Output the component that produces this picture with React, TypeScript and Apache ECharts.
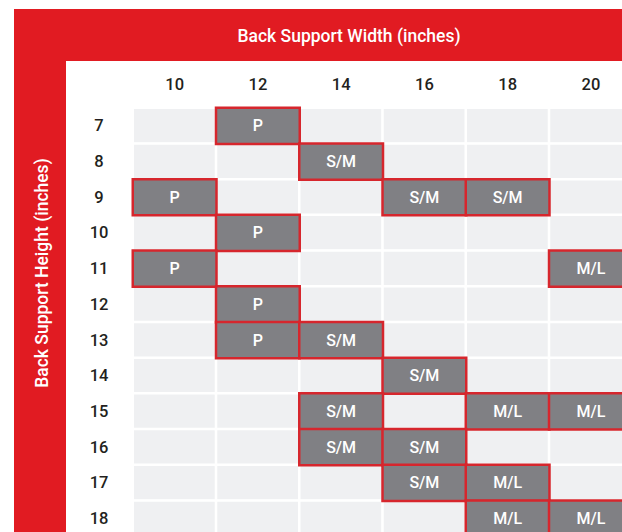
import React, { useEffect, useRef } from "react";
import * as echarts from "echarts";

const widths = ["10", "12", "14", "16", "18", "20"];
const heights = ["7", "8", "9", "10", "11", "12", "13", "14", "15", "16", "17", "18"];
const sizes = ["P", "S/M", "M/L"];
// [width, height, size]
const fits: [string, string, string][] = [
  ["12", "7", "P"],
  ["14", "8", "S/M"],
  ["10", "9", "P"],
  ["16", "9", "S/M"],
  ["18", "9", "S/M"],
  ["12", "10", "P"],
  ["10", "11", "P"],
  ["20", "11", "M/L"],
  ["12", "12", "P"],
  ["12", "13", "P"],
  ["14", "13", "S/M"],
  ["16", "14", "S/M"],
  ["14", "15", "S/M"],
  ["18", "15", "M/L"],
  ["20", "15", "M/L"],
  ["14", "16", "S/M"],
  ["16", "16", "S/M"],
  ["16", "17", "S/M"],
  ["18", "17", "M/L"],
  ["18", "18", "M/L"],
  ["20", "18", "M/L"],
];

const RED = "#e11b22";
const FONT = "Roboto";

export default function App() {
  const ref = useRef<HTMLDivElement>(null);
  useEffect(() => {
    if (!ref.current) return;
    const chart = echarts.init(ref.current, null, { renderer: "svg" });
    const bg: number[][] = [];
    widths.forEach((_, i) => heights.forEach((_, j) => bg.push([i, j, 0])));
    const fg = fits.map(([w, h, s]) => [widths.indexOf(w), heights.indexOf(h), sizes.indexOf(s)]);
    chart.setOption({
      animation: false,
      backgroundColor: "#ffffff",
      graphic: [
        { type: "rect", left: 14, top: 9, shape: { width: 660, height: 52 }, style: { fill: RED }, z: -10 },
        { type: "rect", left: 14, top: 9, shape: { width: 52, height: 560 }, style: { fill: RED }, z: -10 },
        {
          type: "text",
          x: 349,
          y: 36,
          style: {
            text: "Back Support Width (inches)",
            fill: "#ffffff",
            font: `500 17.5px ${FONT}`,
            align: "center",
            verticalAlign: "middle",
          },
        },
        {
          type: "text",
          x: 42,
          y: 273,
          rotation: Math.PI / 2,
          style: {
            text: "Back Support Height (inches)",
            fill: "#ffffff",
            font: `500 17.5px ${FONT}`,
            align: "center",
            verticalAlign: "middle",
          },
        },
      ],
      visualMap: [
        { show: false, type: "continuous", seriesIndex: 0, min: 0, max: 2, inRange: { color: ["#eff0f2", "#eff0f2"] } },
        { show: false, type: "continuous", seriesIndex: 1, min: 0, max: 2, inRange: { color: ["#808084", "#808084"] } },
      ],
      grid: { left: 133, top: 108, width: 499.5, height: 428.4 },
      xAxis: {
        type: "category",
        position: "top",
        data: widths,
        axisLine: { show: false },
        axisTick: { show: false },
        splitLine: { show: false },
        axisLabel: { color: "#231f20", fontSize: 16.5, fontWeight: 500, fontFamily: FONT, margin: 15 },
      },
      yAxis: {
        type: "category",
        inverse: true,
        data: heights,
        axisLine: { show: false },
        axisTick: { show: false },
        splitLine: { show: false },
        axisLabel: { color: "#231f20", fontSize: 16.5, fontWeight: 500, fontFamily: FONT, margin: 34, align: "center" },
      },
      series: [
        {
          type: "heatmap",
          data: bg,
          itemStyle: { borderColor: "#ffffff", borderWidth: 2.5 },
          label: { show: false },
          emphasis: { disabled: true },
          z: 1,
        },
        {
          type: "heatmap",
          data: fg,
          itemStyle: { borderColor: "#d6262d", borderWidth: 2.5 },
          label: {
            show: true,
            color: "#ffffff",
            fontSize: 16,
            fontWeight: 500,
            fontFamily: FONT,
            formatter: (p: any) => sizes[p.value[2]],
          },
          emphasis: { disabled: true },
          z: 2,
        },
      ],
    });
    return () => chart.dispose();
  }, []);
  return (
    <div style={{ position: "fixed", left: 0, top: 0, width: 622, height: 532, overflow: "hidden" }}>
      <div ref={ref} style={{ width: 680, height: 570 }} />
    </div>
  );
}
